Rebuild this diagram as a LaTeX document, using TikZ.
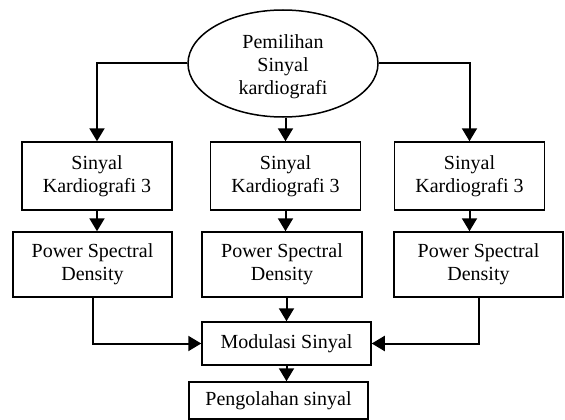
\documentclass[tikz,border=0pt]{standalone}
\usepackage{fontspec}
\setmainfont{Liberation Serif}
\usetikzlibrary{arrows.meta,shapes.geometric,calc}
\tikzset{
  boxnode/.style={draw,line width=1.5pt,rectangle,inner sep=0pt,align=center,font=\fontsize{20}{23}\selectfont},
  ellnode/.style={draw,line width=1.5pt,ellipse,inner sep=0pt},
  txt/.style={inner sep=0pt,align=center,font=\fontsize{20}{23}\selectfont},
  conn/.style={line width=2pt,-{Triangle[length=13pt,width=15pt]}}
}
\begin{document}
\begin{tikzpicture}[x=1pt,y=-1pt]
\useasboundingbox (0,0) rectangle (565,420);
\node[ellnode,minimum width=190pt,minimum height=107pt] (ell) at (283,63.5) {};
\node[txt] (elltext) at (283,66.5) {Pemilihan\\Sinyal\\kardiografi};
\node[boxnode,minimum width=150pt,minimum height=68pt] (s1) at (97,176) {Sinyal\\Kardiografi 3};
\node[boxnode,minimum width=150pt,minimum height=68pt] (s2) at (285.5,176) {Sinyal\\Kardiografi 3};
\node[boxnode,minimum width=150pt,minimum height=68pt] (s3) at (469.5,176) {Sinyal\\Kardiografi 3};
\node[boxnode,minimum width=159pt,minimum height=65pt] (p1) at (92.5,264.5) {Power Spectral\\Density};
\node[boxnode,minimum width=160pt,minimum height=65pt] (p2) at (282,264.5) {Power Spectral\\Density};
\node[boxnode,minimum width=169pt,minimum height=65pt] (p3) at (478.5,264.5) {Power Spectral\\Density};
\node[boxnode,minimum width=169pt,minimum height=43pt] (mod) at (286.5,343.5) {Modulasi Sinyal};
\node[boxnode,minimum width=179pt,minimum height=37pt] (peng) at (278.5,400.5) {Pengolahan sinyal};
\draw[conn] (ell.west) -| (s1.north);
\draw[conn] (ell.east) -| (s3.north);
\draw[conn] (s2.north |- ell.south) -- (s2.north);
\draw[conn] (s1.south) -- (s1.south |- p1.north);
\draw[conn] (s2.south) -- (s2.south |- p2.north);
\draw[conn] (s3.south) -- (s3.south |- p3.north);
\draw[conn] (p1.south) |- (mod.west);
\draw[conn] (p3.south) |- (mod.east);
\draw[conn] (p2.south -| mod.north) -- (mod.north);
\draw[conn] (mod.south) -- (mod.south |- peng.north);
\end{tikzpicture}
\end{document}
